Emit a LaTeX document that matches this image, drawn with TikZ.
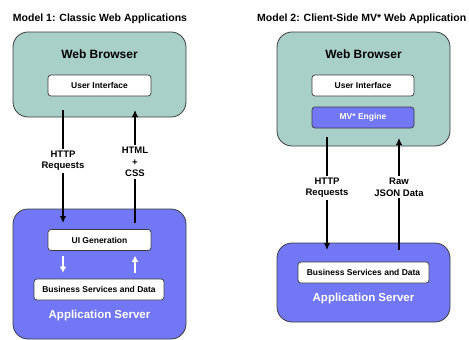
\documentclass[tikz,border=0pt]{standalone}
\usepackage{fontspec}
\setmainfont{Liberation Sans}
\usetikzlibrary{arrows.meta}
\definecolor{browserteal}{RGB}{168,207,200}
\definecolor{serverblue}{RGB}{114,119,246}
\definecolor{edgegray}{RGB}{60,60,60}
\tikzset{
  container/.style={draw=edgegray, line width=0.8pt, rounded corners=15pt,
    minimum width=173pt, inner sep=0pt},
  browser/.style={container, fill=browserteal},
  server/.style={container, fill=serverblue},
  innerbox/.style={draw=edgegray, line width=0.7pt, fill=white, rounded corners=3pt,
    minimum height=21pt, inner sep=0pt,
    font=\fontsize{8.5}{10}\selectfont\bfseries},
  enginebox/.style={innerbox, fill=serverblue, text=white},
  heading/.style={font=\fontsize{12}{14}\selectfont\bfseries},
  serverlabel/.style={font=\fontsize{11.5}{14}\selectfont\bfseries, text=white},
  modeltitle/.style={font=\fontsize{10.5}{12}\selectfont\bfseries, inner sep=0pt},
  flow/.style={line width=1.7pt, -{Latex[length=7pt,width=6.5pt]}},
  backflow/.style={line width=1.7pt, white, -{Latex[length=6pt,width=7pt]}},
  flowlabel/.style={fill=white, inner sep=2pt, align=center,
    font=\fontsize{9.5}{11.5}\selectfont\bfseries},
}
\begin{document}
\begin{tikzpicture}[x=1pt,y=-1pt]
\useasboundingbox (0,0) rectangle (469,340);

% ---------- Model 1: classic web application ----------
\node[modeltitle] (title1) at (100,19) {Model 1: Classic Web Applications};

\node[browser, minimum height=85pt] (browser1) at (99.5,74.5) {};
\node[heading] (bname1) at (99.5,54) {Web Browser};
\node[innerbox, minimum width=103pt] (ui1) at (99.5,85.5) {User Interface};

\node[server, minimum height=130pt] (server1) at (99.5,274) {};
\node[innerbox, minimum width=103pt] (uigen) at (99.5,240) {UI Generation};
\node[innerbox, minimum width=130pt] (bs1) at (99,289.5) {Business Services and Data};
\node[serverlabel] (sname1) at (99.5,316) {Application Server};

\coordinate (req1s) at (63,110);
\coordinate (req1e) at (63,223);
\coordinate (res1s) at (135,223);
\coordinate (res1e) at (135,110);

\draw[flow] (req1s) -- node[flowlabel, pos=0.45] (req1lbl) {HTTP\\Requests} (req1e);
\draw[flow] (res1s) -- node[flowlabel, pos=0.54] (res1lbl) {HTML\\+\\CSS} (res1e);

\draw[backflow, shorten <=5pt, shorten >=6pt] (uigen.south -| req1s) -- (bs1.north -| req1s);
\draw[backflow, shorten <=6pt, shorten >=5pt] (bs1.north -| res1s) -- (uigen.south -| res1s);

% ---------- Model 2: client-side MV* application ----------
\node[modeltitle, anchor=west] (title2) at (257,19) {Model 2: Client-Side MV* Web Application};

\node[browser, minimum height=114pt] (browser2) at (363.5,89) {};
\node[heading] (bname2) at (363.5,54) {Web Browser};
\node[innerbox, minimum width=102pt] (ui2) at (363,85.5) {User Interface};
\node[enginebox, minimum width=102pt] (mv) at (363,117.5) {MV* Engine};

\node[server, minimum height=79pt] (server2) at (363.5,282.5) {};
\node[innerbox, minimum width=131pt] (bs2) at (363.5,272.5) {Business Services and Data};
\node[serverlabel] (sname2) at (363.5,299) {Application Server};

\coordinate (req2s) at (327,137);
\coordinate (req2e) at (327,250);
\coordinate (res2s) at (399,250);
\coordinate (res2e) at (399,138);

\draw[flow] (req2s) -- node[flowlabel, pos=0.45] (req2lbl) {HTTP\\Requests} (req2e);
\draw[flow] (res2s) -- node[flowlabel, pos=0.56] (res2lbl) {Raw\\JSON Data} (res2e);
\end{tikzpicture}
\end{document}
